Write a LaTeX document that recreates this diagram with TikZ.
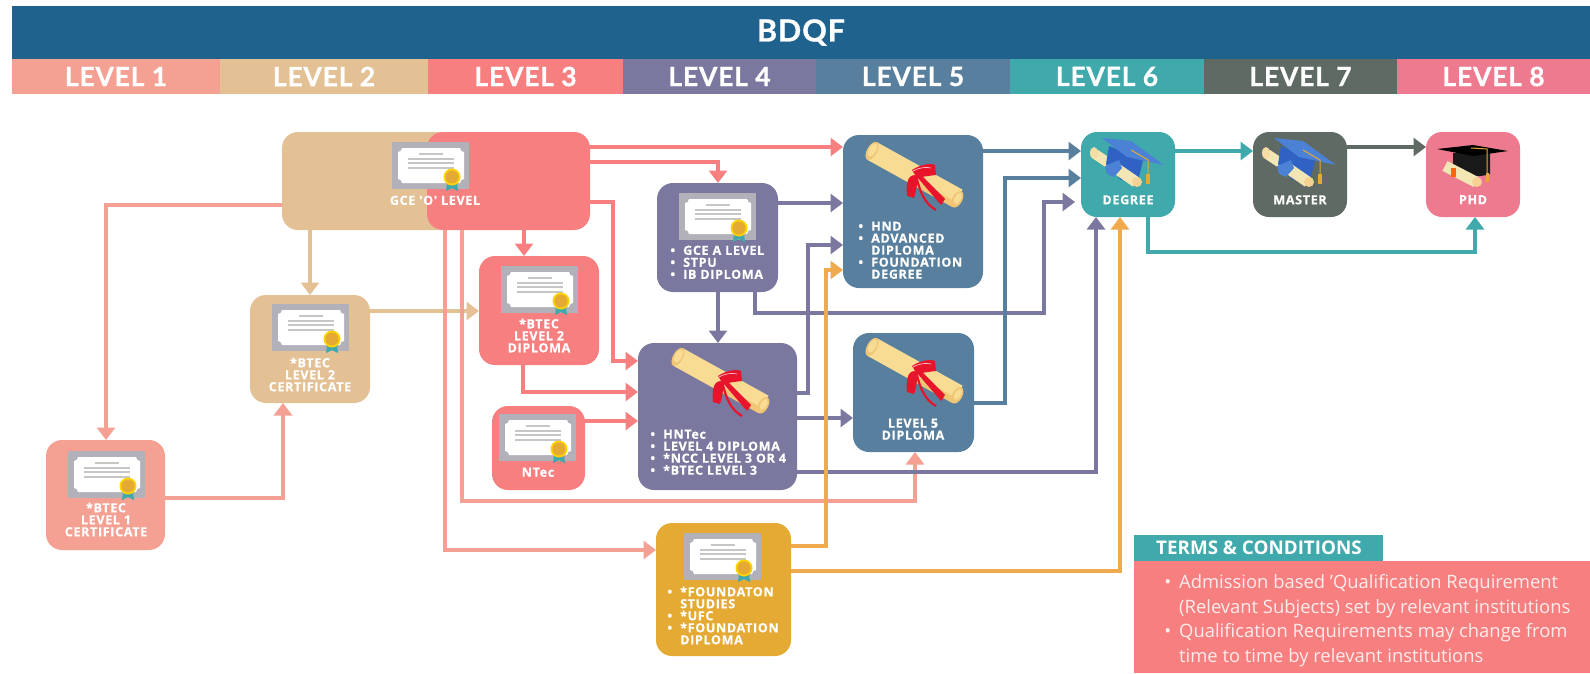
\documentclass[tikz,border=0pt]{standalone}
\usepackage{fontspec}
\setmainfont{Open Sans}
\newfontfamily\hdfont[LetterSpace=3,BoldFeatures={FakeBold=0.8}]{Lato}
\newfontfamily\lblfont[LetterSpace=5,BoldFeatures={FakeBold=0.5}]{Open Sans}
\usetikzlibrary{arrows.meta}
\definecolor{cHead}{HTML}{1F628D}
\definecolor{cOne}{HTML}{F4A093}
\definecolor{cTwo}{HTML}{E3C195}
\definecolor{cThree}{HTML}{F77F7F}
\definecolor{cFour}{HTML}{7B789F}
\definecolor{cFive}{HTML}{58809E}
\definecolor{cSix}{HTML}{3FA9AB}
\definecolor{cSeven}{HTML}{5F6A64}
\definecolor{cEight}{HTML}{EE7A90}
\definecolor{cGold}{HTML}{E5AA33}
\definecolor{cOrange}{HTML}{F0AA4E}
\definecolor{cCertG}{HTML}{B2B0B9}
\definecolor{cRib}{HTML}{E8142C}
\definecolor{cScrollA}{HTML}{F9DC94}
\definecolor{cScrollB}{HTML}{F0C676}
\definecolor{cCream}{HTML}{F3E6B5}
\definecolor{cCapA}{HTML}{4C82D6}
\definecolor{cCapB}{HTML}{2F62C2}
\tikzset{
 band/.style={anchor=north west,minimum height=#1,inner sep=0pt,outer sep=0pt,text=white,font=\hdfont\bfseries\fontsize{26.5}{26.5}\selectfont},
 card/.style={rounded corners=16pt,anchor=north west,inner sep=0pt,outer sep=0pt},
 lbl/.style={inner sep=0pt,text=white,font=\lblfont\bfseries\fontsize{12.6}{12}\selectfont},
 lblc/.style={lbl,anchor=north,align=center},
 lbll/.style={lbl,anchor=north west,align=left},
 conn/.style={line width=3.4pt,-{Triangle[length=12.5pt,width=18pt]},#1},
 termtxt/.style={inner sep=0pt,anchor=north west,align=left,text=white!85!cThree,font=\fontsize{18.4}{24.8}\selectfont},
}
\newcommand{\blt}{\llap{•\hspace{8pt}}}
\newcommand{\cardbox}[6]{\node[card,fill=#6,minimum width=#4,minimum height=#5] (#1) at (#2,#3) {};}
\newcommand{\certicon}[2]{\begin{scope}[shift={(#1,#2)}]
 \fill[cCertG] (0,0) rectangle (77,47);
 \fill[white] (10,6) -- (68,6) .. controls (68,8.5) and (70,10) .. (72,10) -- (72,37) .. controls (70,37) and (68,38.5) .. (68,41) -- (10,41) .. controls (10,38.5) and (8,37) .. (6,37) -- (6,10) .. controls (8,10) and (10,8.5) .. (10,6) -- cycle;
 \fill[gray!45] (27,11.3) rectangle (51,12.7);
 \foreach \yy in {17,21,26}{\fill[gray!45] (16,\yy-.7) rectangle (62,\yy+.7);}
 \fill[cSix] (55,41) -- (65,41) -- (66,49) -- (60,46) -- (54,49) -- cycle;
 \fill[yellow!70!orange] (60,35) circle (8.5);
 \fill[cGold] (60,35) circle (6.5);
\end{scope}}
\newcommand{\scrollicon}[2]{\begin{scope}[shift={(#1,#2)}]
 \begin{scope}[rotate=-29]
  \fill[cScrollA] (-52,-11) rectangle (46,9);
  \fill[cScrollB] (-5,3) rectangle (46,9);
  \fill[cScrollB] (46,0) ellipse (5 and 9);
  \fill[cScrollA] (46,-1) ellipse (3 and 6);
  \fill[cScrollB] (-52,-1) ellipse (5 and 10);
  \fill[cScrollA] (-52,-2) ellipse (3.5 and 7);
 \end{scope}
 \fill[cRib] (-5,-7) .. controls (4,-13) and (14,-14) .. (18,-12) -- (19,-2) .. controls (10,-1) and (4,0) .. (0,1) -- cycle;
 \fill[cRib] (-2,-2) .. controls (-10,-2) and (-11,8) .. (-10,19) -- (-3,21) .. controls (0,12) and (0,5) .. (1,1) -- cycle;
 \fill[cRib] (0,0) -- (4,-2) -- (28,22) -- (24,28) -- cycle;
 \draw[cRib,line width=2.2pt] (0,2) .. controls (3,15) and (8,27) .. (19,33);
 \draw[white!70!cRib,line width=.7pt] (-4,-6) .. controls (3,-10) and (10,-10) .. (14,-9);
\end{scope}}
\newcommand{\capicon}[2]{\begin{scope}[shift={(#1,#2)}]
 \draw[cCream,line width=10pt] (14,22) -- (35,36);
 \fill[cCream!90!orange] (13,21) ellipse (4 and 6);
 \fill[cCapB] (28,14) -- (62,28) -- (58,45) -- (40,48) -- (25,32) -- cycle;
 \draw[cCream,line width=11pt] (36,37) -- (55,50);
 \fill[cCream!80!orange] (56,50) circle (5);
 \fill[cCapA] (24,34) -- (38,28) -- (41,36) -- (33,45) -- (26,42) -- cycle;
 \fill[cCapA] (21,6) -- (50,9) -- (83,33) -- (46,25) -- cycle;
 \draw[cGold,line width=1pt] (50,18) -- (67,28) -- (67,44);
 \fill[cGold] (65,42) rectangle (69,52);
\end{scope}}
\newcommand{\phdicon}[2]{\begin{scope}[shift={(#1,#2)}]
 \fill[black!90] (27,21) -- (64,21) -- (64,42) .. controls (52,46) and (40,44) .. (27,38) -- cycle;
 \draw[cCream,line width=11pt] (19,34) -- (50,50);
 \fill[cCream!80!orange] (51,50) circle (5);
 \fill[orange!80!red] (25,36) rectangle (30,45);
 \fill[black] (11,17) -- (47,13) -- (82,19) -- (47,24) -- cycle;
 \draw[cGold,line width=1pt] (45,16) -- (61,17) -- (61,42);
 \fill[cGold] (59.5,41) rectangle (62.5,50);
\end{scope}}
\begin{document}
\begin{tikzpicture}[x=1pt,y=-1pt]
\useasboundingbox (0,0) rectangle (1590,673);
% header
\node[band=53pt,fill=cHead,minimum width=1578pt,font=\hdfont\bfseries\fontsize{30.5}{30.5}\selectfont] (bdqf) at (12,6) {BDQF};
\node[band=35pt,fill=cOne,minimum width=208pt] (lvA) at (12,59) {LEVEL 1};
\node[band=35pt,fill=cTwo,minimum width=208pt] (lvB) at (220,59) {LEVEL 2};
\node[band=35pt,fill=cThree,minimum width=195pt] (lvC) at (428,59) {LEVEL 3};
\node[band=35pt,fill=cFour,minimum width=193pt] (lvD) at (623,59) {LEVEL 4};
\node[band=35pt,fill=cFive,minimum width=194pt] (lvE) at (816,59) {LEVEL 5};
\node[band=35pt,fill=cSix,minimum width=194pt] (lvF) at (1010,59) {LEVEL 6};
\node[band=35pt,fill=cSeven,minimum width=193pt] (lvG) at (1204,59) {LEVEL 7};
\node[band=35pt,fill=cEight,minimum width=193pt] (lvH) at (1397,59) {LEVEL 8};
% boxes
\cardbox{gceT}{282}{132}{170pt}{98pt}{cTwo}
\cardbox{gceR}{427}{132}{163pt}{98pt}{cThree}
\cardbox{btecTwoC}{250}{295}{120pt}{108pt}{cTwo}
\cardbox{btecTwoD}{479}{256}{120pt}{109pt}{cThree}
\cardbox{ntec}{492}{406}{93pt}{84pt}{cThree}
\cardbox{btecOne}{46}{440}{119pt}{110pt}{cOne}
\cardbox{alevel}{657}{183}{121pt}{109pt}{cFour}
\cardbox{hntec}{638}{343}{159pt}{147pt}{cFour}
\cardbox{found}{656}{523}{135pt}{133pt}{cGold}
\cardbox{hnd}{843}{135}{140pt}{153pt}{cFive}
\cardbox{lvfive}{853}{333}{121pt}{119pt}{cFive}
\cardbox{degree}{1081}{132}{94pt}{85pt}{cSix}
\cardbox{master}{1253}{132}{94pt}{85pt}{cSeven}
\cardbox{phd}{1426}{132}{94pt}{85pt}{cEight}
% free corners of connectors
\coordinate (rA) at (613,361);
% connectors
\draw[conn=cOne] (gceT.west |- 0,205) -| (btecOne.north -| 106,0);
\draw[conn=cTwo] (gceT.south -| 310,0) -- (btecTwoC.north -| 310,0);
\draw[conn=cTwo] (btecTwoC.east |- 0,311) -- (btecTwoD.west |- 0,311);
\draw[conn=cOne] (btecOne.east |- 0,498) -| (btecTwoC.south -| 283,0);
\draw[conn=cThree] (gceR.east |- 0,147) -- (hnd.west |- 0,147);
\draw[conn=cThree] (gceR.east |- 0,162) -| (alevel.north -| 718,0);
\draw[conn=cThree] (gceR.south -| 524,0) -- (btecTwoD.north -| 524,0);
\draw[conn=cThree] (gceR.east |- 0,202) -| (rA) -- (hntec.west |- rA);
\draw[conn=cThree] (btecTwoD.south -| 523,0) |- (hntec.west |- 0,392);
\draw[conn=cThree] (ntec.east |- 0,421) -- (hntec.west |- 0,421);
\draw[conn=cOne] (gceR.south -| 462,0) |- (915,501) -- (lvfive.south -| 915,0);
\draw[conn=cOne] (gceR.south -| 445,0) |- (found.west |- 0,550);
\draw[conn=cFour] (alevel.east |- 0,203) -- (hnd.west |- 0,203);
\draw[conn=cFour] (alevel.south -| 718,0) -- (hntec.north -| 718,0);
\draw[conn=cFour] (alevel.south -| 755,0) |- (1044,313) |- (1075,202);
\draw[conn=cFour] (hntec.east |- 0,393) -| (808,245) -- (hnd.west |- 0,245);
\draw[conn=cFour] (hntec.east |- 0,418) -- (lvfive.west |- 0,418);
\draw[conn=cFour] (hntec.east |- 0,472) -| (degree.south -| 1096,0);
\draw[conn=cOrange] (found.east |- 0,546) -| (826,270) -- (hnd.west |- 0,270);
\draw[conn=cOrange] (found.east |- 0,571) -| (degree.south -| 1120,0);
\draw[conn=cFive] (hnd.east |- 0,151) -- (degree.west |- 0,151);
\draw[conn=cFive] (lvfive.east |- 0,403) -| (1005,178) -- (degree.west |- 0,178);
\draw[conn=cSix] (degree.east |- 0,151) -- (master.west |- 0,151);
\draw[conn=cSix] (degree.south -| 1148,0) |- (1475,252) -- (phd.south -| 1475,0);
\draw[conn=cSeven] (master.east |- 0,147) -- (phd.west |- 0,147);
% icons
\certicon{392}{142}
\certicon{272}{304}
\certicon{501}{266}
\certicon{499}{414}
\certicon{68}{451}
\certicon{679}{193}
\certicon{684}{533}
\scrollicon{917}{177}
\scrollicon{917}{373}
\scrollicon{723}{383}
\capicon{1081}{132}
\capicon{1253}{132}
\phdicon{1426}{132}
% labels
\node[lblc] (tGce) at (435,195.5) {GCE 'O' LEVEL};
\node[lblc] (tBtC) at (310,357.5) {*BTEC\\LEVEL 2\\CERTIFICATE};
\node[lblc] (tBtD) at (539,318.5) {*BTEC\\LEVEL 2\\DIPLOMA};
\node[lblc] (tNt) at (538,467.5) {NTec};
\node[lblc] (tBtO) at (106,502.5) {*BTEC\\LEVEL 1\\CERTIFICATE};
\node[lbll] (tAl) at (683,245.5) {\blt GCE A LEVEL\\\blt STPU\\\blt IB DIPLOMA};
\node[lbll] (tHn) at (663,429.5) {\blt HNTec\\\blt LEVEL 4 DIPLOMA\\\blt *NCC LEVEL 3 OR 4\\\blt *BTEC LEVEL 3};
\node[lbll] (tFo) at (680,586.5) {\blt *FOUNDATON\\STUDIES\\\blt *UFC\\\blt *FOUNDATION\\DIPLOMA};
\node[lbll] (tHd) at (871,221.5) {\blt HND\\\blt ADVANCED\\DIPLOMA\\\blt FOUNDATION\\DEGREE};
\node[lblc] (tLf) at (913,418.5) {LEVEL 5\\DIPLOMA};
\node[lblc] (tDe) at (1128,195) {DEGREE};
\node[lblc] (tMa) at (1300,195) {MASTER};
\node[lblc] (tPh) at (1473,195) {PHD};
% terms
\node[card,rounded corners=0pt,fill=cThree,minimum width=456pt,minimum height=112pt] (panel) at (1134,561) {};
\node[card,rounded corners=0pt,fill=cSix,minimum width=249pt,minimum height=26pt] (thead) at (1134,535) {};
\node[inner sep=0pt,anchor=west,text=white,font=\bfseries\fontsize{18.8}{18.8}\selectfont] (tT) at (1156,548) {TERMS \& CONDITIONS};
\node[termtxt] (tBody) at (1179,574) {\llap{•\hspace{8pt}}Admission based 'Qualification Requirement\\(Relevant Subjects) set by relevant institutions\\\llap{•\hspace{8pt}}Qualification Requirements may change from\\time to time by relevant institutions};
\end{tikzpicture}
\end{document}
